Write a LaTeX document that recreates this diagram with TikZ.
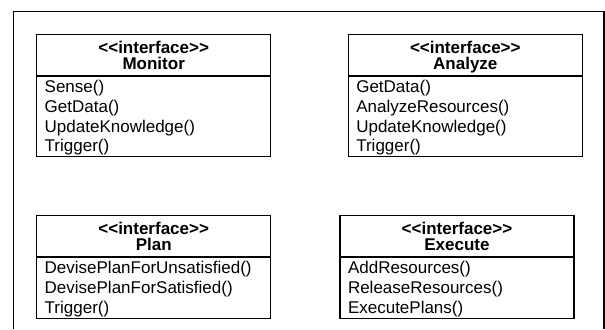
\documentclass[tikz,border=0pt]{standalone}
\usepackage{fontspec}
\setmainfont{Liberation Sans}
\usepackage{tikz}
\usetikzlibrary{positioning}
\usetikzlibrary{shapes.multipart}

% header and operation rows of an interface box
\newcommand{\ifacehead}[1]{\vbox to 40.4bp{\bfseries\baselineskip=16bp\lineskiplimit=-20bp
   \hbox to\hsize{\hss\rule{0pt}{19bp}<\kern0pt<interface>\kern0pt>\hss}
   \hbox to\hsize{\hss#1\hss}\vss}}
\newcommand{\opsbox}[2]{\vbox to #1{\baselineskip=19.6bp\lineskiplimit=-5bp #2\vss}}
\newcommand{\opline}[1]{\hbox to\hsize{\rule[-3.4bp]{0pt}{19.6bp}#1\hss}}

\tikzset{
   iface/.style={draw,line width=1.3bp,rectangle split,rectangle split parts=2,
      text width=218bp,inner xsep=8bp,inner ysep=0pt,outer sep=0pt,
      anchor=north west,font=\fontsize{17bp}{19.6bp}\selectfont},
   frame/.style={line width=1.3bp}
}

\begin{document}
\begin{tikzpicture}[x=1bp,y=1bp]
   \useasboundingbox (0,0) rectangle (605,329);
   \draw[frame] (13.3,0) -- (13.3,317.3) -- (604,317.3) -- (604,0);

   \node[iface] (monitor) at (36.7,294.7) {\ifacehead{Monitor}%
      \nodepart{second}\opsbox{79.3bp}{\opline{Sense()}\opline{GetData()}%
      \opline{UpdateKnowledge()}\opline{Trigger()}}};
   \node[iface,below right=0bp and 77.6bp of monitor.north east] (analyze) {\ifacehead{Analyze}%
      \nodepart{second}\opsbox{79.3bp}{\opline{GetData()}\opline{AnalyzeResources()}%
      \opline{UpdateKnowledge()}\opline{Trigger()}}};
   \node[iface,below right=58.7bp and 0bp of monitor.south west] (plan) {\ifacehead{Plan}%
      \nodepart{second}\opsbox{60bp}{\opline{DevisePlanForUnsatisfied()}%
      \opline{DevisePlanForSatisfied()}\opline{Trigger()}}};
   \node[iface,below right=0bp and 69.3bp of plan.north east] (execute) {\ifacehead{Execute}%
      \nodepart{second}\opsbox{60bp}{\opline{AddResources()}\opline{ReleaseResources()}%
      \opline{ExecutePlans()}}};
\end{tikzpicture}
\end{document}
